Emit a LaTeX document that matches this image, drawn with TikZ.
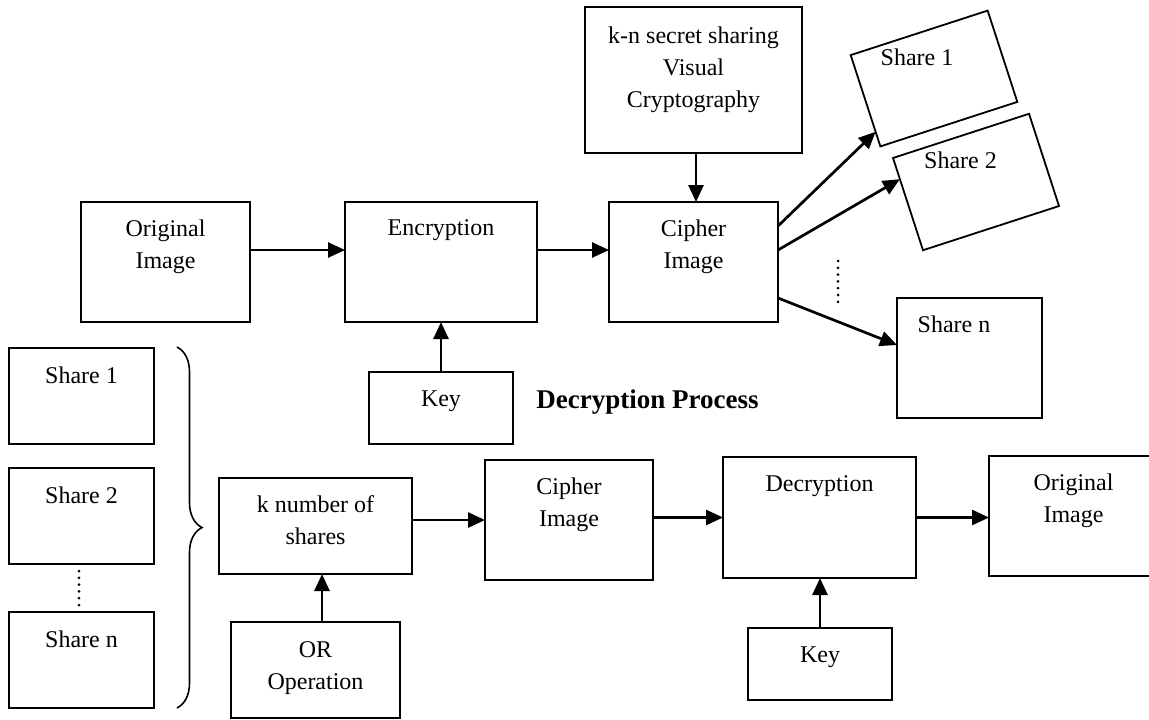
\documentclass[tikz,border=0pt]{standalone}
\usepackage{fontspec}
\setmainfont{Liberation Serif}
\usetikzlibrary{arrows.meta,calc,decorations.pathreplacing}
\begin{document}
\begin{tikzpicture}[x=0.5pt,y=-0.5pt,
  box/.style={draw=black, line width=0.9pt, inner sep=0pt, outer sep=0pt},
  txt/.style={font=\fontsize{12}{16}\selectfont, align=center, inner sep=0pt, anchor=north},
  arr/.style={line width=1.35pt, -{Triangle[length=8.5pt,width=7.5pt]}},
  dots/.style={line width=1.5pt, dash pattern=on 0pt off 3.4pt, line cap=round},
  bigbox/.style={box, minimum width=84.5pt, minimum height=60pt}
]
\useasboundingbox (0,0) rectangle (1149,719);
\fill[white] (0,0) rectangle (1149,719);
\clip (0,0) rectangle (1149,719);

% ---------- encryption part ----------
\node[bigbox] (orig1) at (165.5,262) {};
\node[txt] at ([yshift=-8.7pt]orig1.north) {Original\\Image};
\node[box, minimum width=96pt, minimum height=60pt] (enc) at (441,262) {};
\node[txt] at ([yshift=-8.7pt]enc.north) {Encryption};
\node[bigbox] (cip1) at (693.5,262) {};
\node[txt] at ([yshift=-8.7pt]cip1.north) {Cipher\\Image};
\node[box, minimum width=108.5pt, minimum height=73pt] (kn) at (693.5,80) {};
\node[txt] at ([yshift=-9.5pt]kn.north) {k-n secret sharing\\Visual\\Cryptography};
\node[box, minimum width=72pt, minimum height=36pt] (key1) at (441,408) {};
\node[txt] at ([yshift=-9.2pt]key1.north) {Key};

\node[box, minimum width=72pt, minimum height=48pt, rotate=18] (s1) at (934,78.5) {};
\node[txt] at (917,48) {Share 1};
\node[box, minimum width=71.5pt, minimum height=48.5pt, rotate=18] (s2) at (976,182) {};
\node[txt] at (960.5,151) {Share 2};
\node[box, minimum width=72.5pt, minimum height=60pt] (sn) at (969.5,358) {};
\node[txt] at (954,315) {Share n};

\coordinate (d1a) at (838,261);
\coordinate (d1b) at (838,302);
\draw[dots] (d1a) -- (d1b);

\draw[arr] ([yshift=6pt]orig1.east) -- ([yshift=6pt]enc.west);
\draw[arr] ([yshift=6pt]enc.east) -- ([yshift=6pt]cip1.west);
\draw[arr] ([xshift=1.25pt]kn.south) -- ([xshift=1.25pt]cip1.north);
\draw[arr] (key1.north) -- (enc.south);
\draw[arr] ([yshift=18pt]cip1.east) -- ($(s1.south west)!0.16!(s1.north west)$);
\draw[arr] ([yshift=6pt]cip1.east) -- ($(s2.south west)!0.77!(s2.north west)$);
\draw[arr] ([yshift=-18pt]cip1.east) -- ([yshift=6.5pt]sn.west);

\node[font=\bfseries\fontsize{13.5}{16}\selectfont, anchor=base west, inner sep=0pt] (dp) at (536,408) {Decryption Process};

% ---------- decryption part ----------
\node[box, minimum width=72.5pt, minimum height=48pt] (ls1) at (81.5,396) {};
\node[txt] at ([yshift=-9.2pt]ls1.north) {Share 1};
\node[box, minimum width=72.5pt, minimum height=48pt] (ls2) at (81.5,516) {};
\node[txt] at ([yshift=-9.2pt]ls2.north) {Share 2};
\node[box, minimum width=72.5pt, minimum height=48pt] (lsn) at (81.5,660) {};
\node[txt] at ([yshift=-9.2pt]lsn.north) {Share n};

\coordinate (d2a) at (79,571);
\coordinate (d2b) at (79,610);
\draw[dots] (d2a) -- (d2b);

\coordinate (br1) at (177,347);
\coordinate (br2) at (177,708);
\draw[line width=0.8pt, decorate, decoration={brace, amplitude=12.5pt}] (br1) -- (br2);

\node[box, minimum width=96.5pt, minimum height=48pt] (kb) at (315.5,526) {};
\node[txt] at ([yshift=-8.7pt]kb.north) {k number of\\shares};
\node[box, minimum width=84.5pt, minimum height=48pt] (orb) at (315.5,670) {};
\node[txt] at ([yshift=-9.5pt]orb.north) {OR\\Operation};
\node[box, minimum width=84pt, minimum height=60pt] (cip2) at (569,520) {};
\node[txt] at ([yshift=-8.7pt]cip2.north) {Cipher\\Image};
\node[box, minimum width=96.5pt, minimum height=60.5pt] (dec) at (819.5,517.5) {};
\node[txt] at ([yshift=-9.2pt]dec.north) {Decryption};
\node[box, minimum width=72pt, minimum height=36pt] (key2) at (820,664) {};
\node[txt] at ([yshift=-9.2pt]key2.north) {Key};
\node[box, minimum width=84.5pt, minimum height=60pt] (orig2) at (1073.5,516) {};
\node[txt] at ([yshift=-8.5pt]orig2.north) {Original\\Image};

\draw[arr] (cip2.west -| kb.east) -- (cip2.west);
\draw[arr] ([xshift=3.25pt]orb.north) -- ([xshift=3.25pt]kb.south);
\draw[arr] (dec.west -| cip2.east) -- (dec.west);
\draw[arr] (dec.east) -- (dec.east -| orig2.west);
\draw[arr] (key2.north) -- (key2.north |- dec.south);
\end{tikzpicture}
\end{document}
